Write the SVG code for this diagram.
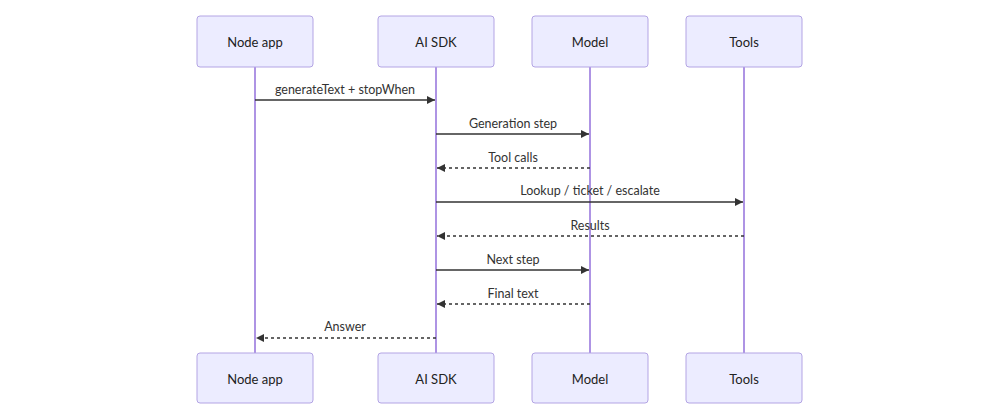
<svg xmlns="http://www.w3.org/2000/svg" width="1000" height="420" viewBox="0 0 1000 420">
<defs>
<style>
.actor{fill:#ECECFF;stroke:#b3a4e4;stroke-width:1;}
.life{stroke:#9370DB;stroke-width:1.5;}
.lbl{font-family:Lato,"Liberation Sans",sans-serif;font-size:12.5px;fill:#333;text-anchor:middle;}
.alb{font-family:Lato,"Liberation Sans",sans-serif;font-size:13px;fill:#222;text-anchor:middle;dominant-baseline:central;}
.msg{stroke:#333;stroke-width:1.5;fill:none;}
.dash{stroke-dasharray:3,3;}
</style>
<marker id="ah" viewBox="0 0 10 10" refX="10" refY="5" markerWidth="8" markerHeight="8" markerUnits="userSpaceOnUse" orient="auto-start-reverse">
<path d="M0,0 L10,5 L0,10 z" fill="#333"/>
</marker>
</defs>
<rect width="1000" height="420" fill="#fff"/>
<g id="lifelines">
<line class="life" x1="255" y1="67" x2="255" y2="353"/>
<line class="life" x1="436" y1="67" x2="436" y2="353"/>
<line class="life" x1="590" y1="67" x2="590" y2="353"/>
<line class="life" x1="744" y1="67" x2="744" y2="353"/>
</g>
<g id="node-app-top"><rect class="actor" x="197" y="16" width="116" height="51" rx="3"/><text class="alb" x="255" y="42">Node app</text></g>
<g id="ai-sdk-top"><rect class="actor" x="378" y="16" width="116" height="51" rx="3"/><text class="alb" x="436" y="42">AI SDK</text></g>
<g id="model-top"><rect class="actor" x="532" y="16" width="116" height="51" rx="3"/><text class="alb" x="590" y="42">Model</text></g>
<g id="tools-top"><rect class="actor" x="686" y="16" width="116" height="51" rx="3"/><text class="alb" x="744" y="42">Tools</text></g>
<g id="node-app-bottom"><rect class="actor" x="197" y="353" width="116" height="50" rx="3"/><text class="alb" x="255" y="379">Node app</text></g>
<g id="ai-sdk-bottom"><rect class="actor" x="378" y="353" width="116" height="50" rx="3"/><text class="alb" x="436" y="379">AI SDK</text></g>
<g id="model-bottom"><rect class="actor" x="532" y="353" width="116" height="50" rx="3"/><text class="alb" x="590" y="379">Model</text></g>
<g id="tools-bottom"><rect class="actor" x="686" y="353" width="116" height="50" rx="3"/><text class="alb" x="744" y="379">Tools</text></g>
<g id="connectors">
<line class="msg" x1="255" y1="100" x2="435" y2="100" marker-end="url(#ah)"/>
<text class="lbl" x="345" y="94">generateText + stopWhen</text>
<line class="msg" x1="436" y1="134" x2="589" y2="134" marker-end="url(#ah)"/>
<text class="lbl" x="513" y="128">Generation step</text>
<line class="msg dash" x1="590" y1="168" x2="437" y2="168" marker-end="url(#ah)"/>
<text class="lbl" x="513" y="162">Tool calls</text>
<line class="msg" x1="436" y1="202" x2="743" y2="202" marker-end="url(#ah)"/>
<text class="lbl" x="590" y="195">Lookup / ticket / escalate</text>
<line class="msg dash" x1="744" y1="236" x2="437" y2="236" marker-end="url(#ah)"/>
<text class="lbl" x="590" y="230">Results</text>
<line class="msg" x1="436" y1="270" x2="589" y2="270" marker-end="url(#ah)"/>
<text class="lbl" x="513" y="264">Next step</text>
<line class="msg dash" x1="590" y1="304" x2="437" y2="304" marker-end="url(#ah)"/>
<text class="lbl" x="513" y="298">Final text</text>
<line class="msg dash" x1="436" y1="338" x2="256" y2="338" marker-end="url(#ah)"/>
<text class="lbl" x="345" y="331">Answer</text>
</g>
</svg>
